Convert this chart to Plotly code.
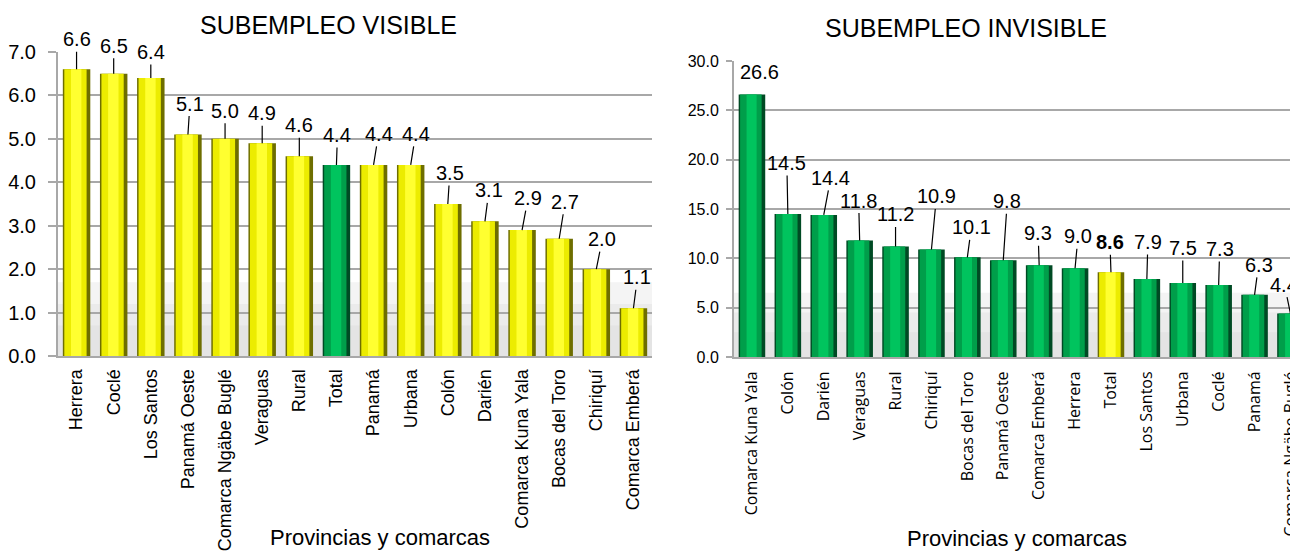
import plotly.graph_objects as go

# ---------------- data ----------------
vis_categories = ["Herrera", "Coclé", "Los Santos", "Panamá Oeste", "Comarca Ngäbe Buglé",
                  "Veraguas", "Rural", "Total", "Panamá", "Urbana", "Colón", "Darién",
                  "Comarca Kuna Yala", "Bocas del Toro", "Chiriquí", "Comarca Emberá"]
vis_values = [6.6, 6.5, 6.4, 5.1, 5.0, 4.9, 4.6, 4.4, 4.4, 4.4, 3.5, 3.1, 2.9, 2.7, 2.0, 1.1]

inv_categories = ["Comarca Kuna Yala", "Colón", "Darién", "Veraguas", "Rural", "Chiriquí",
                  "Bocas del Toro", "Panamá Oeste", "Comarca Emberá", "Herrera", "Total",
                  "Los Santos", "Urbana", "Coclé", "Panamá", "Comarca Ngäbe Buglé"]
inv_values = [26.6, 14.5, 14.4, 11.8, 11.2, 10.9, 10.1, 9.8, 9.3, 9.0, 8.6, 7.9, 7.5, 7.3, 6.3, 4.4]

vis_ticks = [0, 1, 2, 3, 4, 5, 6, 7]
inv_ticks = [0, 5, 10, 15, 20, 25, 30]

# label offsets (pixels) for the value labels with leader lines
vis_label_dx = [0, 0, 0, 2, 0, 0, 0, 1, 5, 5, 2, 4, 6, 6, 6, 4]
vis_label_dy = [-30, -28, -26, -31, -28, -30, -31, -30, -31, -31, -31, -31, -32, -37, -30, -31]
inv_label_dx = [8, -1, 7, -1, 0, 5, 4, 4, -1, 3, -1, 1, 0, 1, 4, -6]
inv_label_dy = [-23, -51, -37, -40, -32, -53, -30, -59, -32, -32, -30, -37, -35, -36, -30, -29]

FONT = "Liberation Sans"
YEL = ["#6e6e00", "#ecec00", "#ffff30"]
GRN = ["#004a24", "#009e4a", "#00c45e"]
LAYERS = [(0.74, -0.37), (0.60, -0.33), (0.28, -0.15)]

# page offset (browser body margin) and canvas size
OFF = 8
W, H = 1298 - OFF, 553 - OFF


def px(x):
    return (x - OFF) / W


def py(y):
    return 1 - (y - OFF) / H


fig = go.Figure()


def add_bars(cats, vals, base, highlight, xa, ya):
    for k, (w, off) in enumerate(LAYERS):
        colors = [(highlight[k] if c == "Total" else base[k]) for c in cats]
        fig.add_trace(go.Bar(x=cats, y=vals, width=w, offset=off,
                             marker=dict(color=colors, line=dict(width=0)),
                             xaxis=xa, yaxis=ya, showlegend=False, hoverinfo="x+y"))


add_bars(vis_categories, vis_values, YEL, GRN, "x", "y")
add_bars(inv_categories, inv_values, GRN, YEL, "x2", "y2")

LBL = dict(family=FONT, size=20, color="black")
annotations = []
for c, v, dx, dy in zip(vis_categories, vis_values, vis_label_dx, vis_label_dy):
    annotations.append(dict(x=c, y=v, xref="x", yref="y", text=f"{v:.1f}",
                            showarrow=True, arrowhead=0, arrowwidth=1.2, arrowcolor="black",
                            ax=dx, ay=dy, standoff=0, font=LBL))
for c, v, dx, dy in zip(inv_categories, inv_values, inv_label_dx, inv_label_dy):
    txt = f"<b>{v:.1f}</b>" if c == "Total" else f"{v:.1f}"
    if v == max(inv_values):
        annotations.append(dict(x=c, y=v, xref="x2", yref="y2", text=txt, showarrow=False,
                                xanchor="center", yanchor="middle",
                                xshift=dx, yshift=-dy, font=LBL))
    else:
        annotations.append(dict(x=c, y=v, xref="x2", yref="y2", text=txt,
                                showarrow=True, arrowhead=0, arrowwidth=1.2, arrowcolor="black",
                                ax=dx, ay=dy, standoff=0, font=LBL))

# titles
for text, x, y, size in (("SUBEMPLEO VISIBLE", 328, 25, 25),
                         ("SUBEMPLEO INVISIBLE", 966, 28, 25),
                         ("Provincias y comarcas", 380, 537, 22),
                         ("Provincias y comarcas", 1017, 538, 22)):
    annotations.append(dict(x=px(x), y=py(y), xref="paper", yref="paper",
                            xanchor="center", yanchor="middle",
                            text=text, showarrow=False,
                            font=dict(family=FONT, size=size, color="black")))

# soft floor shadow behind bars
shapes = []
for ya, xa, tops in (("y", "x", [1.7, 1.2, 0.7]), ("y2", "x2", [6.5, 4.5, 2.5])):
    for t in tops:
        shapes.append(dict(type="rect", xref=f"{xa} domain", yref=ya, x0=0, x1=1, y0=0, y1=t,
                           fillcolor="#cfcfcf", opacity=0.22, line=dict(width=0), layer="below"))

GRID = "#a8a8a8"
fig.update_layout(
    width=W, height=H,
    margin=dict(l=0, r=0, t=0, b=0, autoexpand=False),
    paper_bgcolor="white", plot_bgcolor="white",
    barmode="overlay",
    annotations=annotations,
    shapes=shapes,
    xaxis=dict(domain=[px(58), px(652)], anchor="y", type="category",
               range=[-0.5, 15.5], tickangle=-90, showgrid=False, automargin=False,
               showline=True, linecolor=GRID, linewidth=2, ticks="",
               ticklabelstandoff=4,
               tickfont=dict(family=FONT, size=18, color="black")),
    yaxis=dict(domain=[py(356), py(52)], anchor="x", range=[0, 7],
               tickvals=vis_ticks, tickformat=".1f", showgrid=True, gridcolor=GRID,
               gridwidth=2, showline=True, linecolor=GRID, linewidth=2, automargin=False,
               ticks="outside", ticklen=8, tickcolor=GRID, tickwidth=2,
               ticklabelstandoff=8, zeroline=False,
               tickfont=dict(family=FONT, size=20, color="black")),
    xaxis2=dict(domain=[px(734), 1.0], anchor="y2", type="category",
                range=[-0.5, 15.21], tickangle=-90, showgrid=False, automargin=False,
                showline=True, linecolor=GRID, linewidth=2, ticks="",
                ticklabelstandoff=6,
                tickfont=dict(family="Open Sans", size=16, color="black")),
    yaxis2=dict(domain=[py(357), py(61)], anchor="x2", range=[0, 30],
                tickvals=inv_ticks, tickformat=".1f", showgrid=True, gridcolor=GRID,
                gridwidth=2, showline=True, linecolor=GRID, linewidth=2, automargin=False,
                ticks="outside", ticklen=6, tickcolor=GRID, tickwidth=2,
                ticklabelstandoff=4, zeroline=False,
                tickfont=dict(family=FONT, size=16, color="black")),
)

fig.write_html("out.html")
